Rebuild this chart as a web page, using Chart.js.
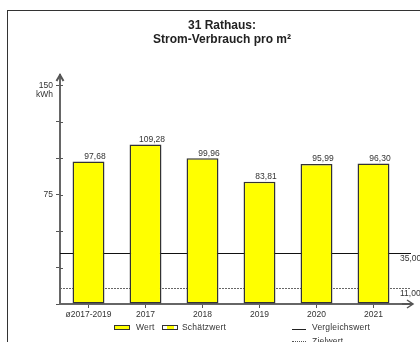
<!DOCTYPE html>
<html>
<head>
<meta charset="utf-8">
<script src="https://cdn.jsdelivr.net/npm/chart.js@4.4.1/dist/chart.umd.min.js"></script>
<style>
html, body { margin: 0; padding: 0; background: #fff; overflow: hidden; }
#wrap { position: relative; width: 420px; height: 342px; overflow: hidden; font-family: "Liberation Sans", Arial, sans-serif; }
#frame { position: absolute; left: 7px; top: 10px; width: 500px; height: 400px; border-left: 1px solid #333; border-top: 1px solid #333; }
canvas { position: absolute; left: 0; top: 0; }
.leg { position: absolute; font-size: 8.5px; color: #333; line-height: 10px; white-space: nowrap; letter-spacing: 0.2px; }
.sw { position: absolute; box-sizing: border-box; width: 16px; height: 5px; border: 1px solid #333; }
.ln { position: absolute; width: 14px; height: 0; }
</style>
</head>
<body>
<div id="wrap">
  <div id="frame"></div>
  <canvas id="chart" width="420" height="342"></canvas>
  <div class="sw" style="left:114px;top:325px;background:#ffff00"></div>
  <div class="leg" style="left:136px;top:322px">Wert</div>
  <div class="sw" style="left:162px;top:325px;background:linear-gradient(90deg,#fff 25%,#ffff00 25%,#ffff00 75%,#fff 75%)"></div>
  <div class="leg" style="left:182px;top:322px">Schätzwert</div>
  <div class="ln" style="left:292px;top:329px;border-top:1px solid #222"></div>
  <div class="leg" style="left:312px;top:322px">Vergleichswert</div>
  <div class="ln" style="left:292px;top:341px;border-top:1px dotted #555"></div>
  <div class="leg" style="left:312px;top:336px">Zielwert</div>
</div>
<script>
const categories = ['ø2017-2019', '2017', '2018', '2019', '2020', '2021'];
const wert = [97.68, 109.28, 99.96, 83.81, 95.99, 96.30];
const vergleichswert = 35;
const zielwert = 11;
const yTicks = [0, 25, 50, 75, 100, 125, 150];
const yLabels = [75, 150];

const font = '"Liberation Sans", Arial, sans-serif';
const fmt = v => v.toFixed(2).replace('.', ',');

// reference lines, arrows, value labels
const extras = {
    id: 'extras',
    beforeDatasetsDraw(chart) {
        const { ctx, chartArea } = chart;
        const y = chart.scales.y;
        const end = chartArea.right + 9;
        ctx.save();
        ctx.lineWidth = 1;
        ctx.strokeStyle = '#111';
        let py = Math.round(y.getPixelForValue(vergleichswert)) + 0.5;
        ctx.beginPath();
        ctx.moveTo(chartArea.left, py);
        ctx.lineTo(end, py);
        ctx.stroke();
        ctx.strokeStyle = '#666';
        ctx.setLineDash([2, 1]);
        py = Math.round(y.getPixelForValue(zielwert)) + 0.5;
        ctx.beginPath();
        ctx.moveTo(chartArea.left, py);
        ctx.lineTo(end, py);
        ctx.stroke();
        ctx.restore();
    },
    afterDatasetsDraw(chart) {
        const { ctx, chartArea } = chart;
        const y = chart.scales.y;
        ctx.save();
        ctx.font = '8.5px ' + font;
        ctx.fillStyle = '#333';
        ctx.textAlign = 'center';
        ctx.textBaseline = 'alphabetic';
        chart.getDatasetMeta(0).data.forEach((bar, i) => {
            ctx.fillText(fmt(wert[i]), bar.x + 6.5, bar.y - 2.5);
        });

        ctx.textAlign = 'left';
        ctx.fillText(fmt(vergleichswert), chartArea.right - 2, y.getPixelForValue(vergleichswert) + 8);
        ctx.fillText(fmt(zielwert), chartArea.right - 2, y.getPixelForValue(zielwert) + 8);

        ctx.textAlign = 'right';
        ctx.textBaseline = 'middle';
        ctx.fillText('kWh', chartArea.left - 7, y.getPixelForValue(150) + 9);

        const x0 = chartArea.left, top = chartArea.top, bot = chartArea.bottom;

        // tick marks crossing the y axis
        ctx.strokeStyle = '#555';
        ctx.lineWidth = 1;
        yTicks.slice(1).forEach(v => {
            const ty = Math.round(y.getPixelForValue(v)) + 0.5;
            ctx.beginPath();
            ctx.moveTo(x0, ty);
            ctx.lineTo(x0 + 3, ty);
            ctx.stroke();
        });

        // axis arrows
        ctx.lineWidth = 2;
        ctx.beginPath();
        ctx.moveTo(x0 - 3.5, top + 6);
        ctx.lineTo(x0, top);
        ctx.lineTo(x0 + 3.5, top + 6);
        ctx.stroke();
        const xe = chartArea.right + 11;
        ctx.beginPath();
        ctx.moveTo(chartArea.right, bot);
        ctx.lineTo(xe, bot);
        ctx.stroke();
        ctx.lineWidth = 1.5;
        ctx.beginPath();
        ctx.moveTo(xe - 6, bot - 4);
        ctx.lineTo(xe, bot);
        ctx.lineTo(xe - 6, bot + 4);
        ctx.stroke();
        ctx.restore();
    }
};

new Chart(document.getElementById('chart').getContext('2d'), {
    type: 'bar',
    data: {
        labels: categories,
        datasets: [{
            label: 'Wert',
            data: wert,
            backgroundColor: '#ffff00',
            borderColor: '#333',
            borderWidth: 1.5,
            borderSkipped: false,
            barPercentage: 0.56,
            categoryPercentage: 1
        }]
    },
    options: {
        responsive: false,
        animation: false,
        layout: { padding: { left: 24, right: 0, top: 0, bottom: 0 } },
        plugins: {
            legend: { display: false },
            tooltip: { enabled: false },
            title: {
                display: true,
                text: ['31 Rathaus:', 'Strom-Verbrauch pro m²'],
                color: '#222',
                font: { family: font, size: 12, weight: 'bold', lineHeight: 14 / 12 },
                padding: { top: 19, bottom: 28 }
            }
        },
        scales: {
            x: {
                offset: true,
                grid: { drawOnChartArea: false, offset: false, tickLength: 4, color: '#555' },
                border: { color: '#666', width: 2 },
                ticks: { font: { family: font, size: 8.5 }, color: '#333', padding: 2, maxRotation: 0, autoSkip: false },
                afterFit: s => { s.height = 38; }
            },
            y: {
                min: 0,
                max: 157,
                afterBuildTicks: s => { s.ticks = yTicks.map(v => ({ value: v })); },
                grid: { drawOnChartArea: false, tickLength: 4, color: '#555' },
                border: { color: '#666', width: 2 },
                ticks: {
                    font: { family: font, size: 8.5 },
                    color: '#333',
                    padding: 3,
                    callback: v => yLabels.includes(v) ? String(v) : ''
                },
                afterFit: s => { s.width = 36; }
            },
            y2: {
                position: 'right',
                grid: { display: false },
                border: { display: false },
                ticks: { display: false },
                afterFit: s => { s.width = 18; }
            }
        }
    },
    plugins: [extras]
});
</script>
</body>
</html>
